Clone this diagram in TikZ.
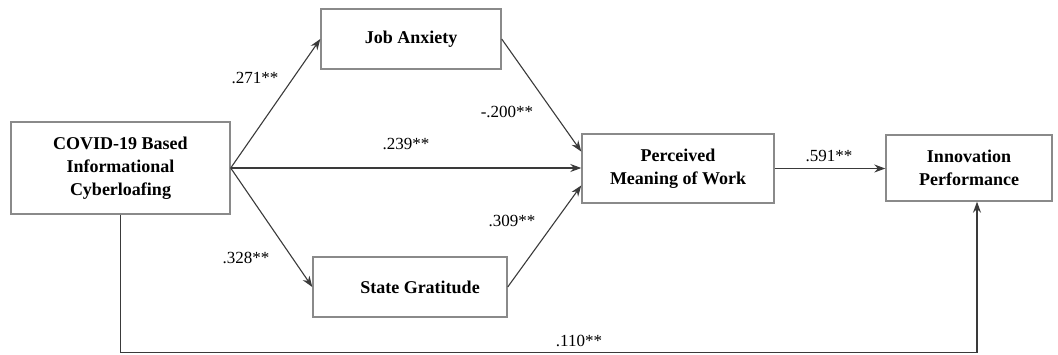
\documentclass[tikz,border=0pt]{standalone}
\usepackage{fontspec}
\setmainfont{Liberation Serif}
\usetikzlibrary{arrows.meta,calc}
\definecolor{boxgray}{HTML}{8A8A8A}
\definecolor{arrgray}{HTML}{3A3A3A}
\tikzset{
  vbox/.style={draw=boxgray, line width=1.4pt, fill=white, align=center, inner sep=0pt,
    font=\fontsize{18}{23}\selectfont\bfseries},
  arr/.style={draw=arrgray, line width=1.1pt, -{Stealth[length=11pt,width=8pt]}},
  coef/.style={font=\fontsize{17}{20}\selectfont, inner sep=0pt}
}
\begin{document}
\begin{tikzpicture}[x=1pt,y=-1pt]
\useasboundingbox (0,0) rectangle (1058,354);
\node[vbox, minimum width=219pt, minimum height=92pt] (cov) at (120.5,168) {COVID-19 Based\\Informational\\Cyberloafing};
\node[vbox, minimum width=180pt, minimum height=60pt] (ja) at (411,39) {Job Anxiety};
\node[vbox, minimum width=194pt, minimum height=60pt] (sg) at (410,287) {\hspace*{20pt}State Gratitude};
\node[vbox, minimum width=192pt, minimum height=69pt] (pmw) at (678,168.5) {Perceived\\Meaning of Work};
\node[vbox, minimum width=166pt, minimum height=66pt] (ip) at (969,168) {Innovation\\Performance};
\coordinate (pin1) at ($(pmw.north west)!0.26!(pmw.south west)$);
\coordinate (pin3) at ($(pmw.north west)!0.74!(pmw.south west)$);
\coordinate (ipin) at ($(ip.south)+(8,0)$);
\coordinate (base) at (0,352.5);
\draw[arr] (cov.east) -- (ja.west);
\draw[arr] (cov.east) -- (sg.west);
\draw[arr] (cov.east) -- (cov.east -| pmw.west);
\draw[arr] (ja.east) -- (pin1);
\draw[arr] (sg.east) -- (pin3);
\draw[arr] (pmw.east) -- (pmw.east -| ip.west);
\draw[arr] (cov.south) -- (cov.south |- base) -- (ipin |- base) -- (ipin);
\node[coef] (c1) at (255,78) {.271**};
\node[coef] (c2) at (507,112) {-.200**};
\node[coef] (c3) at (406,144) {.239**};
\node[coef] (c4) at (512,221) {.309**};
\node[coef] (c5) at (246,258) {.328**};
\node[coef] (c6) at (829,156) {.591**};
\node[coef] (c7) at (579,341) {.110**};
\end{tikzpicture}
\end{document}
